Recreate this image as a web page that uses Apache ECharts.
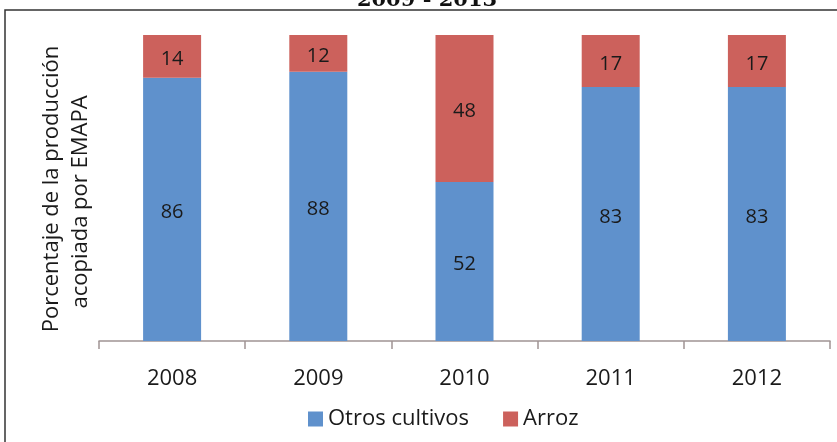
<!DOCTYPE html>
<html>
<head>
<meta charset="utf-8">
<script src="https://cdn.jsdelivr.net/npm/echarts@6/dist/echarts.min.js"></script>
<style>
  html, body { margin: 0; padding: 0; background: #fff; }
  #chart { width: 837px; height: 442px; }
</style>
</head>
<body>
<div id="chart"></div>
<script>
// años de la campaña
const years = ['2008', '2009', '2010', '2011', '2012']
// porcentaje acopiado por EMAPA
const otrosCultivos = [86, 88, 52, 83, 83]
const arroz = [14, 12, 48, 17, 17]
const seriesNames = ['Otros cultivos', 'Arroz']
const yTitle = ['Porcentaje de la producción', 'acopiada por EMAPA']
const periodo = '2009 - 2013'

const FONT = '"Open Sans", sans-serif'
const chart = echarts.init(document.getElementById('chart'), null, { renderer: 'canvas' })

const barLabel = { show: true, position: 'inside', offset: [0, 3], fontFamily: FONT, fontSize: 20, color: '#1a1a1a' }

const option = {
  animation: false,
  backgroundColor: '#ffffff',
  grid: { // area de las barras
    left: 99,
    right: 7,
    top: 35,
    bottom: 101
  },
  legend: {
    data: seriesNames,
    left: 303,
    top: 403,
    icon: 'rect',
    itemWidth: 15,
    itemHeight: 15,
    itemGap: 34,
    textStyle: { fontFamily: FONT, fontSize: 22, color: '#1a1a1a' }
  },
  xAxis: {
    type: 'category',
    data: years,
    axisLine: { show: true, lineStyle: { color: '#a09494', width: 1.5 } },
    axisTick: { show: true, inside: false, length: 8, interval: 0, lineStyle: { color: '#a09494', width: 1.5 } },
    axisLabel: { margin: 27, fontFamily: FONT, fontSize: 22, color: '#1a1a1a' }
  },
  yAxis: {
    type: 'value',
    min: 0,
    max: 100,
    axisLine: { show: false },
    axisTick: { show: false },
    axisLabel: { show: false },
    splitLine: { show: false }
  },
  series: [
    {
      name: seriesNames[0],
      type: 'bar',
      stack: 'total',
      barWidth: 58,
      data: otrosCultivos,
      itemStyle: { color: '#5f91cc' },
      label: barLabel
    },
    {
      name: seriesNames[1],
      type: 'bar',
      stack: 'total',
      barWidth: 58,
      data: arroz,
      itemStyle: { color: '#cc615c' },
      label: barLabel
    }
  ],
  graphic: [
    { // marco del grafico
      type: 'rect',
      shape: { x: 5, y: 10, width: 900, height: 600 },
      style: { fill: 'none', stroke: '#333', lineWidth: 1.5 },
      silent: true
    },
    { // titulo cortado arriba
      type: 'text',
      style: {
        x: 427, y: 1, text: periodo,
        font: 'bold 21px "DejaVu Serif", serif',
        fill: '#111', textAlign: 'center', textVerticalAlign: 'middle'
      }
    },
    {
      type: 'text',
      x: 52, y: 189, rotation: Math.PI / 2,
      style: {
        x: 0, y: 0, text: yTitle[0],
        font: '22px ' + FONT, fill: '#1a1a1a',
        textAlign: 'center', textVerticalAlign: 'middle'
      }
    },
    {
      type: 'text',
      x: 81, y: 202, rotation: Math.PI / 2,
      style: {
        x: 0, y: 0, text: yTitle[1],
        font: '22px ' + FONT, fill: '#1a1a1a',
        textAlign: 'center', textVerticalAlign: 'middle'
      }
    }
  ]
}
chart.setOption(option)
</script>
</body>
</html>
